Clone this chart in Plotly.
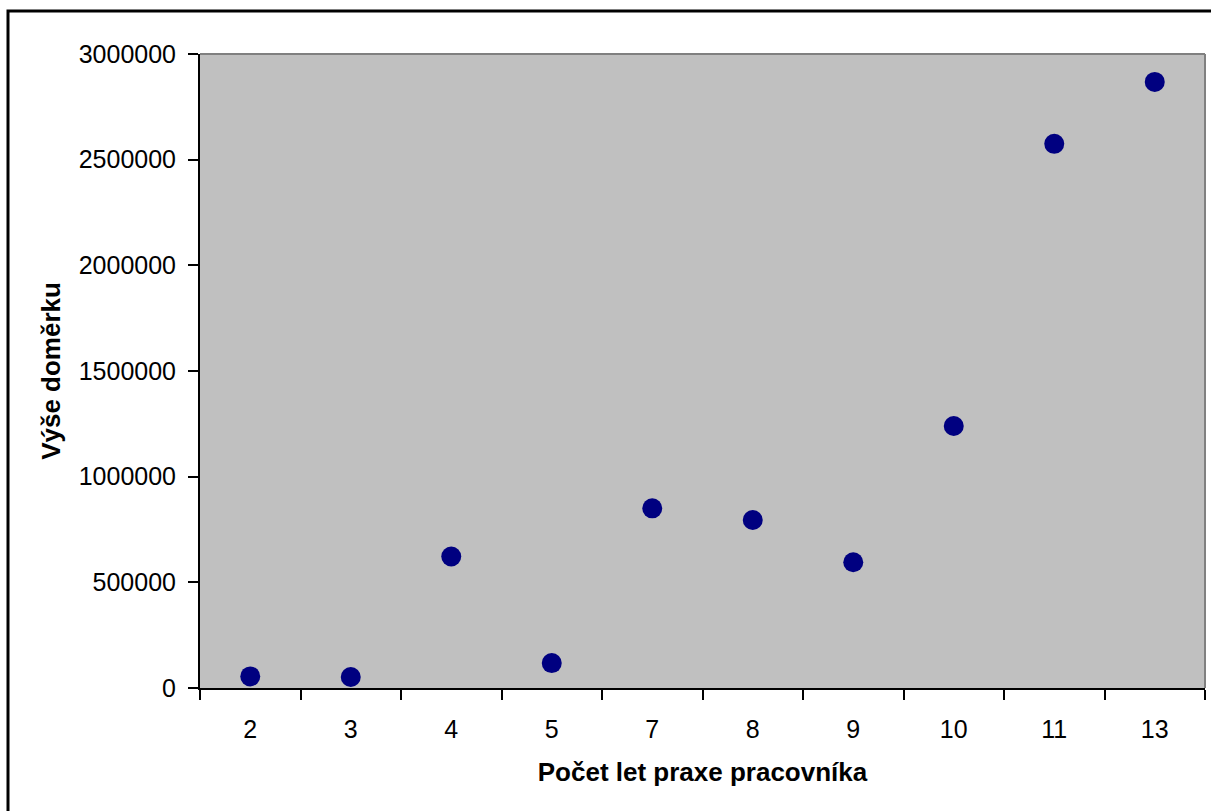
import plotly.graph_objects as go

categories = ["2", "3", "4", "5", "7", "8", "9", "10", "11", "13"]
values = [55000, 52000, 622000, 118000, 850000, 795000, 595000, 1240000, 2575000, 2868000]
y_ticks = [0, 500000, 1000000, 1500000, 2000000, 2500000, 3000000]

W, H = 1211, 811
L, R, T, B = 200, 1205, 54, 688
pw, ph = R - L, B - T

def px(x):
    return (x - L) / pw

def py(y):
    return (B - y) / ph

fig = go.Figure()
fig.add_trace(go.Scatter(
    x=categories, y=values, mode="markers",
    marker=dict(size=20, color="#000080", line=dict(width=0)),
    showlegend=False, cliponaxis=False,
))

font = "Liberation Sans, Arial, sans-serif"
fig.update_layout(
    width=W, height=H,
    margin=dict(l=L, r=W - R, t=T, b=H - B, autoexpand=False),
    paper_bgcolor="white", plot_bgcolor="#C0C0C0",
    font=dict(family=font, size=25, color="black"),
    xaxis=dict(
        type="category", range=[-0.5, len(categories) - 0.5],
        tickson="boundaries", ticks="outside", ticklen=10, tickwidth=2, tickcolor="black",
        showline=True, linecolor="black", linewidth=2, showgrid=False, zeroline=False,
        tickfont=dict(size=25, family=font), ticklabelstandoff=18,
        title=dict(text="<b>Počet let praxe pracovníka</b>", font=dict(size=26, family=font), standoff=21),
        automargin=False,
    ),
    yaxis=dict(
        range=[0, 3000000], tickvals=y_ticks, ticktext=[str(v) for v in y_ticks],
        ticks="outside", ticklen=10, tickwidth=2, tickcolor="black",
        showline=True, linecolor="black", linewidth=2, showgrid=False, zeroline=False,
        tickfont=dict(size=25, family=font), ticklabelstandoff=7,
        title=dict(text="<b>Výše doměrku</b>", font=dict(size=26, family=font), standoff=11),
        automargin=False,
    ),
    shapes=[
        dict(type="line", xref="paper", yref="paper", x0=0, x1=1, y0=1, y1=1,
             line=dict(color="#808080", width=2), layer="below"),
        dict(type="line", xref="paper", yref="paper", x0=1, x1=1, y0=0, y1=1,
             line=dict(color="#808080", width=2), layer="below"),
        dict(type="rect", xref="paper", yref="paper",
             x0=px(8), x1=px(1220), y0=py(820), y1=py(11),
             line=dict(color="black", width=3), layer="above"),
    ],
)

fig.write_html("out.html")
